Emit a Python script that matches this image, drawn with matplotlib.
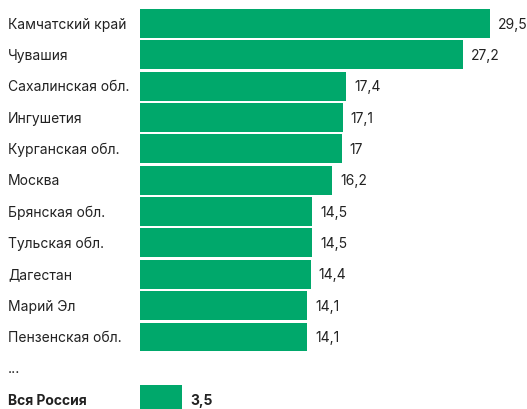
import matplotlib
matplotlib.use("Agg")
import matplotlib.pyplot as plt

regions = ["Камчатский край", "Чувашия", "Сахалинская обл.", "Ингушетия",
           "Курганская обл.", "Москва", "Брянская обл.", "Тульская обл.",
           "Дагестан", "Марий Эл", "Пензенская обл."]
values = [29.5, 27.2, 17.4, 17.1, 17.0, 16.2, 14.5, 14.5, 14.4, 14.1, 14.1]
total_label = "Вся Россия"
total_value = 3.5

green = "#00a86b"
text_col = "#222222"
plt.rcParams['font.family'] = ['Inter', 'DejaVu Sans']

fig = plt.figure(figsize=(5.27, 4.10), dpi=100)
W, H = 527, 410
left_px = 140
ax = fig.add_axes([left_px / W, 0, 1 - left_px / W, 1])
px_per_unit = 11.86
ax.set_xlim(0, (W - left_px) / px_per_unit)
pitch = 31.34
y0 = 24.6
ax.set_ylim((H - y0) / pitch, -y0 / pitch)
ax.axis('off')

def fmt(v):
    s = f"{v:.1f}".replace('.', ',')
    if s.endswith(',0'):
        s = s[:-2]
    return s

ypos = list(range(len(regions)))
ax.barh(ypos, values, height=0.925, color=green, edgecolor='none')
tot_y = len(regions) + 1
ax.barh([tot_y], [total_value], height=0.925, color=green, edgecolor='none')

fs = 10
x_lab = 8 / W
for y, name, v in zip(ypos, regions, values):
    yf = 1 - (y0 + pitch * y) / H
    fig.text(x_lab, yf, name, ha='left', va='center', fontsize=fs, color=text_col)
    ax.text(v + 8 / px_per_unit, y, fmt(v), ha='left', va='center', fontsize=fs, color=text_col)

dots_y = len(regions)
fig.text(x_lab, 1 - (y0 + pitch * dots_y) / H, "...", ha='left', va='center', fontsize=fs, color=text_col)
fig.text(x_lab, 1 - (y0 + pitch * tot_y) / H, total_label, ha='left', va='center', fontsize=fs,
         color=text_col, fontweight='bold')
ax.text(total_value + 9 / px_per_unit, tot_y, fmt(total_value), ha='left', va='center', fontsize=fs,
        color=text_col, fontweight='bold')

fig.savefig("out.png", dpi=100, facecolor='white')
